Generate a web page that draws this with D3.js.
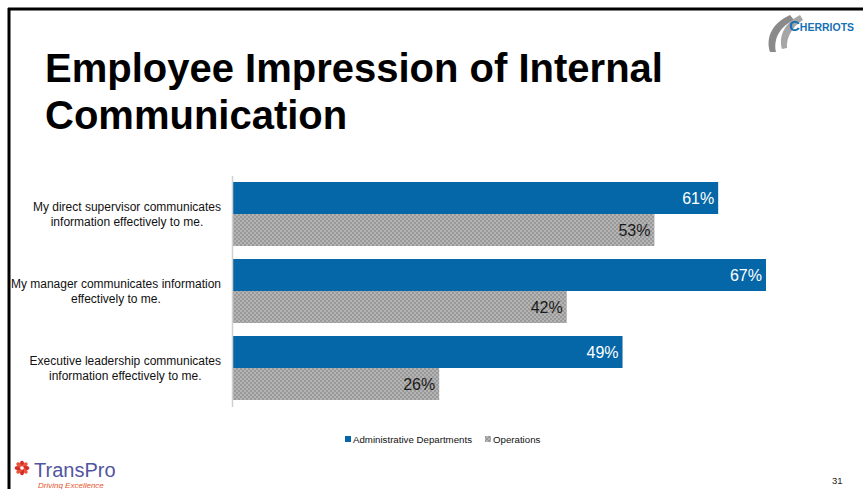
<!DOCTYPE html>
<html>
<head>
<meta charset="utf-8">
<script src="https://cdn.jsdelivr.net/npm/d3@7"></script>
<style>
  html, body { margin: 0; padding: 0; background: #fff; }
  svg { display: block; font-family: Arial, "Liberation Sans", sans-serif; }
</style>
</head>
<body>
<svg id="chart" width="863" height="489"></svg>
<script>
// Survey statements (top to bottom) and share of agreement per group
const categories = [
  ["My direct supervisor communicates", "information effectively to me."],
  ["My manager communicates information", "effectively to me."],
  ["Executive leadership communicates", "information effectively to me."]
];
const seriesNames = ["Administrative Departments", "Operations"];
const adminValues = [0.61, 0.67, 0.49];
const operationsValues = [0.53, 0.42, 0.26];
const seriesColors = ["#0567a8", "url(#checker)"];

const svg = d3.select("#chart");
const W = 863, H = 489;

// Checkered grey fill for the Operations series
const defs = svg.append("defs");
const pat = defs.append("pattern").attr("id", "checker")
  .attr("width", 4).attr("height", 4).attr("patternUnits", "userSpaceOnUse");
pat.append("rect").attr("width", 4).attr("height", 4).attr("fill", "#b4b4b4");
pat.append("rect").attr("width", 2).attr("height", 2).attr("fill", "#999");
pat.append("rect").attr("x", 2).attr("y", 2).attr("width", 2).attr("height", 2).attr("fill", "#999");

// Scales
const x = d3.scaleLinear().domain([0, 1]).range([232, 1029]);
const y0 = d3.scaleBand().domain(d3.range(categories.length))
  .range([175.5, 406.5]).paddingInner(13 / 77).paddingOuter(6.5 / 77);
const y1 = d3.scaleBand().domain([0, 1]).range([0, y0.bandwidth()]);

const seriesData = [adminValues, operationsValues];

// Category labels: each two-line block is right-aligned to the axis,
// lines centred within the block
const labelRight = 221;
categories.forEach((cat, i) => {
  const cy = y0(i) + y0.bandwidth() / 2;
  const t = svg.append("text").attr("text-anchor", "middle")
    .attr("font-size", 12).attr("fill", "#111");
  const spans = cat.map((line, k) =>
    t.append("tspan").attr("y", cy - 3 + k * 14.5).text(line));
  const maxW = d3.max(spans, s => s.node().getComputedTextLength());
  spans.forEach(s => s.attr("x", labelRight - maxW / 2));
});

// Bars with value labels inside the end
const g = svg.append("g");
categories.forEach((cat, i) => {
  seriesData.forEach((vals, s) => {
    const v = vals[i];
    const top = y0(i) + y1(s);
    g.append("rect")
      .attr("x", x(0)).attr("y", top)
      .attr("width", x(v) - x(0)).attr("height", y1.bandwidth())
      .attr("fill", seriesColors[s]);
    g.append("text")
      .attr("x", x(v) - 4).attr("y", top + y1.bandwidth() / 2 + 6)
      .attr("text-anchor", "end").attr("font-size", 16)
      .attr("fill", s === 0 ? "#fff" : "#1a1a1a")
      .text(d3.format(".0%")(v));
  });
});

// Category axis
const axis = d3.axisLeft(y0).tickSize(0).tickFormat("");
const axG = svg.append("g").attr("transform", `translate(${x(0)},0)`).call(axis);
axG.select(".domain").attr("stroke", "#d0d0d0").attr("stroke-width", 1.5);

// Slide frame
svg.append("line").attr("x1", 8).attr("x2", W).attr("y1", 9).attr("y2", 9)
  .attr("stroke", "#000").attr("stroke-width", 3);
svg.append("line").attr("x1", 9).attr("x2", 9).attr("y1", 8).attr("y2", H)
  .attr("stroke", "#000").attr("stroke-width", 3);

// Title
const title = svg.append("text")
  .attr("font-size", 40).attr("font-weight", "bold").attr("fill", "#000");
title.append("tspan").attr("x", 45).attr("y", 82).text("Employee Impression of Internal");
title.append("tspan").attr("x", 45).attr("y", 129).text("Communication");

// Legend
const legend = svg.append("g").attr("font-size", 9.7).attr("fill", "#111");
const legendX = [345, 485];
seriesNames.forEach((name, s) => {
  legend.append("rect").attr("x", legendX[s]).attr("y", 436)
    .attr("width", 6).attr("height", 6).attr("fill", seriesColors[s]);
  legend.append("text").attr("x", legendX[s] + 8).attr("y", 443).text(name);
});

// Page number
svg.append("text").attr("x", 832).attr("y", 484).attr("font-size", 9.5)
  .attr("fill", "#222").text("31");

// Cherriots mark, top right
const ch = svg.append("g");
ch.append("path")
  .attr("d", "M790,15 C774,22 765,36 770,52 L776,52 C773,38 781,26 794,20 Z")
  .attr("fill", "#8a8a8a");
ch.append("path")
  .attr("d", "M800,15 C786,22 778,35 782,49 L787,48 C786,37 793,26 803,20 Z")
  .attr("fill", "#a6a6a6");
const chText = ch.append("text").attr("x", 789).attr("y", 31)
  .attr("font-weight", "bold").attr("fill", "#1670b4");
chText.append("tspan").attr("font-size", 15).text("C");
chText.append("tspan").attr("font-size", 10.5).text("HERRIOTS");

// TransPro mark, bottom left
const tp = svg.append("g");
const flower = tp.append("g").attr("transform", "translate(22,468)");
d3.range(8).forEach(k => {
  flower.append("ellipse").attr("cx", 0).attr("cy", -4).attr("rx", 2).attr("ry", 3.3)
    .attr("fill", k % 2 ? "#e8563a" : "#d62b2b")
    .attr("transform", `rotate(${k * 45})`);
});
flower.append("circle").attr("r", 1.8).attr("fill", "#fff");
tp.append("text").attr("x", 34).attr("y", 477).attr("font-size", 20)
  .attr("fill", "#52549f").text("TransPro");
tp.append("text").attr("x", 38).attr("y", 488).attr("font-size", 8)
  .attr("font-style", "italic").attr("fill", "#e5552f").text("Driving Excellence");
</script>
</body>
</html>
